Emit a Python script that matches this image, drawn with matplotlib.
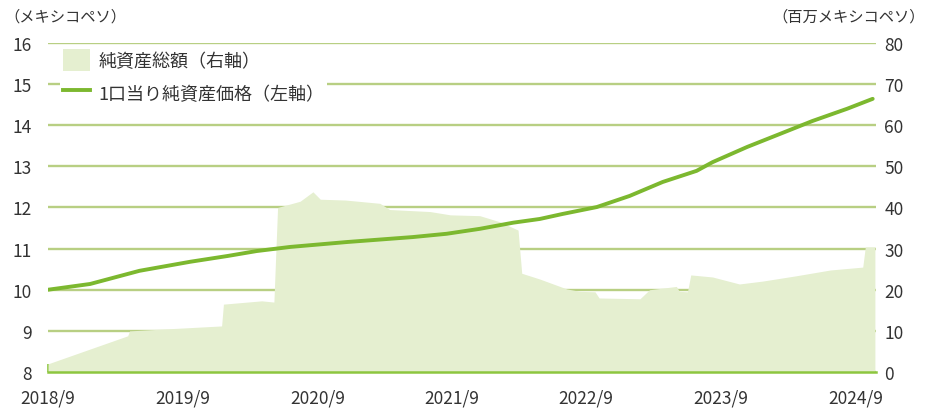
import matplotlib
matplotlib.use('Agg')
import matplotlib.pyplot as plt
from matplotlib.patches import Patch
from matplotlib.lines import Line2D
import pandas as pd

plt.rcParams['font.family'] = ['Noto Sans CJK JP', 'DejaVu Sans']

# 1口当り純資産価格 (left axis, MXN)
nav_dates = ['2018-09-01', '2018-12-24', '2019-05-07', '2019-09-22', '2020-01-01',
             '2020-03-20', '2020-06-19', '2020-11-21', '2021-05-18', '2021-08-18',
             '2021-11-16', '2022-02-15', '2022-04-28', '2022-06-28', '2022-09-30',
             '2022-12-28', '2023-03-28', '2023-06-28', '2023-08-10', '2023-11-12',
             '2024-02-10', '2024-05-07', '2024-08-10', '2024-10-18']
nav_values = [10.0, 10.14, 10.46, 10.68, 10.82,
              10.94, 11.04, 11.16, 11.28, 11.36,
              11.48, 11.63, 11.72, 11.84, 12.01,
              12.28, 12.62, 12.89, 13.1, 13.47,
              13.79, 14.1, 14.4, 14.64]

# 純資産総額 (right axis, million MXN)
aum_dates = ['2018-09-01', '2019-04-05', '2019-04-10', '2019-12-16', '2019-12-21',
             '2020-04-03', '2020-05-06', '2020-05-16', '2020-07-16', '2020-08-20',
             '2020-09-09', '2020-11-16', '2021-02-18', '2021-03-16', '2021-07-04',
             '2021-08-28', '2021-11-16', '2022-01-10', '2022-02-28', '2022-03-10',
             '2022-04-28', '2022-07-10', '2022-08-16', '2022-09-25', '2022-10-06',
             '2023-01-25', '2023-02-20', '2023-05-04', '2023-05-12', '2023-06-03',
             '2023-06-12', '2023-08-10', '2023-10-22', '2023-12-24', '2024-03-25',
             '2024-06-25', '2024-09-21', '2024-09-28', '2024-10-24']
aum_values = [2.0, 8.8, 10.0, 11.2, 16.5,
              17.3, 17.0, 40.0, 41.5, 43.8,
              42.0, 41.8, 41.0, 39.5, 39.0,
              38.2, 38.0, 36.5, 34.5, 24.0,
              22.6, 20.2, 19.6, 19.5, 18.0,
              17.8, 20.0, 20.8, 19.6, 19.5,
              23.6, 23.1, 21.4, 22.1, 23.4,
              24.8, 25.5, 30.4, 30.4]

year_ticks = ['2018-09-01', '2019-09-01', '2020-09-01', '2021-09-01',
              '2022-09-01', '2023-09-01', '2024-09-01']
year_labels = ['2018/9', '2019/9', '2020/9', '2021/9', '2022/9', '2023/9', '2024/9']

nav_x = pd.to_datetime(nav_dates)
aum_x = pd.to_datetime(aum_dates)
tick_x = pd.to_datetime(year_ticks)

area_color = '#e5efd0'
line_color = '#7cb82f'
grid_color = '#b8cf83'
text_color = '#333333'

fig = plt.figure(figsize=(9.26, 4.14), dpi=100)
ax2 = fig.add_axes([0.052, 0.099, 0.894, 0.795])
ax1 = ax2.twinx()
# line axis drawn above the area axis
ax1.set_zorder(ax2.get_zorder() + 1)
ax1.patch.set_visible(False)

ax2.yaxis.tick_right()
ax1.yaxis.tick_left()

# grid + area on the right-hand axis
ax2.set_axisbelow(True)
ax2.grid(axis='y', color=grid_color, linewidth=1.7)
ax2.fill_between(aum_x, 0, aum_values, color=area_color, linewidth=0, zorder=2)
ax2.set_ylim(0, 80)
ax2.set_yticks(range(0, 81, 10))

ax1.plot(nav_x, nav_values, color=line_color, linewidth=2.8, solid_capstyle='round')
ax1.set_ylim(8, 16)
ax1.set_yticks(range(8, 17))

ax2.set_xlim(pd.Timestamp('2018-09-01'), pd.Timestamp('2024-10-27'))
ax2.set_xticks(tick_x)
ax2.set_xticklabels(year_labels)

for a in (ax1, ax2):
    for s in a.spines.values():
        s.set_visible(False)
ax2.spines['bottom'].set_visible(True)
ax2.spines['bottom'].set_color('#8dc63f')
ax2.spines['bottom'].set_linewidth(1.8)

ax2.tick_params(axis='x', direction='in', length=6, width=1.2, color='#8dc63f',
                labelsize=12.5, labelcolor=text_color, pad=12)
ax2.tick_params(axis='y', length=0, labelsize=12.5, labelcolor=text_color, pad=6)
ax1.tick_params(axis='y', length=0, labelsize=12.5, labelcolor=text_color, pad=12)

fig.text(0.005, 0.96, '（メキシコペソ）', fontsize=11, color=text_color, ha='left', va='center')
fig.text(0.999, 0.96, '（百万メキシコペソ）', fontsize=11, color=text_color, ha='right', va='center')

handles = [Patch(facecolor=area_color, edgecolor='none'),
           Line2D([0], [0], color=line_color, linewidth=2.8)]
labels = ['純資産総額（右軸）', '1口当り純資産価格（左軸）']
leg = ax1.legend(handles, labels, loc='upper left', bbox_to_anchor=(0.004, 1.016),
                 fontsize=13, frameon=True, facecolor='white', edgecolor='none',
                 framealpha=1, fancybox=False, handlelength=1.5, handleheight=1.5,
                 handletextpad=0.5, labelspacing=0.6, borderpad=0.12)
for t in leg.get_texts():
    t.set_color(text_color)

fig.savefig('out.png', dpi=100)
